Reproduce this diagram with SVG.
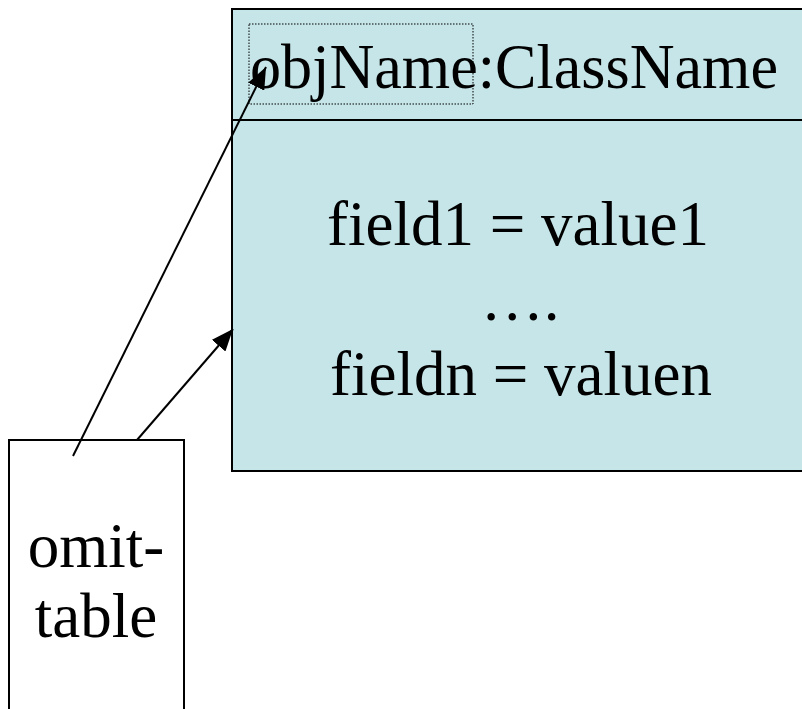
<svg xmlns="http://www.w3.org/2000/svg" width="802" height="709" viewBox="0 0 802 709">
<style>
.t{font-family:"Liberation Serif","Times New Roman",serif;font-size:63px;fill:#000}
.ln{stroke:#000;stroke-width:2;fill:none}
</style>
<defs>
<marker id="ah2" viewBox="0 0 22 18" refX="22" refY="9" markerWidth="22" markerHeight="18" orient="auto" markerUnits="userSpaceOnUse">
<path d="M0,0 L22,9 L0,18 z" fill="#000"/>
</marker>
</defs>
<rect width="802" height="709" fill="#fff"/>
<g id="object">
<rect x="232" y="9" width="580" height="462" fill="#c6e5e8" stroke="#000" stroke-width="2"/>
<line x1="232" y1="120" x2="802" y2="120" stroke="#000" stroke-width="2"/>
<rect x="249" y="24" width="224" height="80" fill="none" stroke="#000" stroke-width="1" stroke-dasharray="1.5,1.5"/>
<text class="t" x="250" y="88" textLength="528" lengthAdjust="spacingAndGlyphs">objName:ClassName</text>
<text class="t" x="518" y="245" text-anchor="middle">field1 = value1</text>
<text class="t" x="520" y="320" text-anchor="middle">….</text>
<text class="t" x="521" y="395" text-anchor="middle">fieldn = valuen</text>
</g>
<g id="omit-table">
<rect x="9" y="440" width="175" height="290" fill="#fff" stroke="#000" stroke-width="2"/>
<text class="t" x="96" y="567" text-anchor="middle">omit-</text>
<text class="t" x="96" y="637" text-anchor="middle">table</text>
</g>
<g id="connectors">
<line class="ln" x1="73" y1="456" x2="266" y2="67" marker-end="url(#ah2)"/>
<line class="ln" x1="137" y1="440" x2="233" y2="329" marker-end="url(#ah2)"/>
</g>
</svg>
